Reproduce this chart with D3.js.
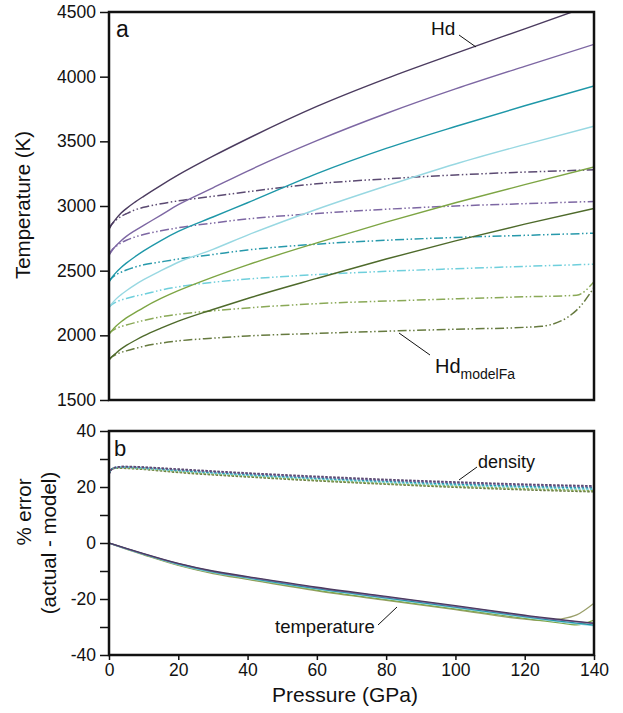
<!DOCTYPE html>
<html><head><meta charset="utf-8">
<script src="https://cdn.jsdelivr.net/npm/d3@7"></script>
<style>
html,body{margin:0;padding:0;background:#fff;}
text{font-family:"Liberation Sans",Arial,Helvetica,sans-serif;fill:#111;}
</style></head>
<body>
<script>
// ---------------- DATA ----------------
const seriesNames = ["2800","2600","2400","2200","2000","1800"];
const solidColors = ["#4b3b5f","#7d67a3","#1e97a8","#98d8e2","#7da544","#4e6a2b"];
const modelColors = ["#5b4a72","#7d67a3","#2799ab","#6fcfdc","#8aa957","#667a3f"];

// panel a: Hd (solid) temperatures vs pressure
const pHd = [0,1,2,3.5,5,7.5,10,15,20,30,40,60,80,100,120,140];
const hd2800 = [2820,2865,2900,2945,2980,3030,3075,3160,3240,3385,3520,3770,3985,4180,4370,4560];
const hd2600 = [2620,2660,2692,2732,2765,2810,2850,2930,3010,3140,3270,3505,3715,3905,4080,4250];
const hd2400 = [2413,2453,2485,2525,2558,2608,2653,2733,2803,2915,3025,3250,3445,3615,3775,3928];
const hd2200 = [2215,2250,2280,2315,2345,2390,2430,2500,2565,2665,2775,2975,3155,3325,3475,3617];
const hd2000 = [2010,2042,2070,2105,2135,2175,2215,2285,2345,2450,2545,2715,2875,3025,3165,3302];
const hd1800 = [1810,1838,1862,1895,1922,1960,1995,2055,2110,2200,2285,2440,2590,2730,2860,2981];

// panel a: Hd_modelFa (dash-dot-dot) temperatures vs pressure
const pModel = [0,0.5,1,2,3.5,5,7.5,10,15,20,30,40,60,80,100,120,140];
const mod2800 = [2820,2848,2865,2890,2920,2940,2970,2990,3018,3040,3075,3110,3172,3210,3240,3262,3280];
const mod2600 = [2620,2648,2665,2688,2715,2735,2760,2780,2808,2832,2868,2900,2942,2975,3000,3018,3035];
const mod2400 = [2413,2435,2448,2468,2488,2505,2528,2545,2568,2590,2625,2660,2705,2735,2757,2773,2790];
const mod2200 = [2215,2231,2242,2257,2273,2285,2303,2317,2350,2375,2410,2435,2470,2495,2515,2533,2550];
const pModelYG = [0,0.5,1,2,3.5,5,7.5,10,15,20,30,40,60,80,100,120,135,140];
const mod2000 = [2010,2026,2037,2052,2068,2080,2098,2115,2143,2163,2190,2212,2245,2265,2282,2298,2310,2415];
const pModelDG = [0,0.5,1,2,3.5,5,7.5,10,15,20,30,40,60,80,100,120,125,135,140];
const mod1800 = [1810,1826,1837,1852,1868,1880,1898,1915,1940,1957,1978,1995,2015,2032,2047,2062,2070,2195,2370];

// panel b: % error in density (dashed)
const pDens = [0,0.5,1,2,3,4,6,10,20,40,60,80,100,120,140];
const dens2800 = [24.5,25.8,26.5,27.0,27.2,27.3,27.3,27.1,26.4,25.0,23.8,22.7,21.8,21.0,20.4];
const dens2600 = [24.6,25.9,26.6,27.0,27.2,27.3,27.2,27.0,26.2,24.8,23.5,22.4,21.5,20.7,20.1];
const dens2400 = [24.8,26.0,26.6,27.0,27.1,27.2,27.1,26.9,26.0,24.5,23.2,22.1,21.1,20.3,19.7];
const dens2200 = [25.0,26.1,26.6,26.9,27.0,27.1,27.0,26.7,25.8,24.2,22.9,21.7,20.7,19.9,19.2];
const dens2000 = [25.3,26.2,26.6,26.8,26.9,26.9,26.8,26.5,25.5,23.9,22.5,21.3,20.3,19.4,18.7];
const dens1800 = [25.5,26.2,26.5,26.7,26.7,26.7,26.6,26.3,25.2,23.6,22.2,21.0,19.9,19.0,18.3];

// panel b: % error in temperature (solid)
const pTemp = [0,5,10,20,30,40,60,80,100,120,125,130,135,140];
const terr2800 = [0,-1.9,-3.8,-7.3,-10.0,-12.0,-15.8,-19.1,-22.4,-25.8,-26.6,-27.3,-28.0,-28.6];
const terr2600 = [0,-2.0,-3.9,-7.4,-10.1,-12.2,-16.0,-19.3,-22.6,-26.0,-26.8,-27.5,-28.2,-28.8];
const terr2400 = [0,-2.0,-4.0,-7.5,-10.3,-12.4,-16.3,-19.6,-22.9,-26.3,-27.1,-27.9,-28.6,-29.3];
const terr2200 = [0,-2.1,-4.0,-7.7,-10.5,-12.6,-16.5,-19.9,-23.2,-26.6,-27.4,-28.2,-28.9,-29.6];
const terr2000 = [0,-2.1,-4.1,-7.8,-10.7,-12.8,-16.8,-20.2,-23.5,-26.9,-27.7,-28.5,-29.2,-27.5];
const terr1800 = [0,-2.2,-4.2,-8.0,-10.9,-13.0,-17.1,-20.5,-23.8,-27.2,-27.7,-27.2,-25.7,-21.5];

const xTicks = [0,20,40,60,80,100,120,140];
const yTicksA = [1500,2000,2500,3000,3500,4000,4500];
const yTicksB = [-40,-30,-20,-10,0,10,20,30,40];

// ---------------- CHART ----------------
const W = 623, H = 713;
const svg = d3.select("body").append("svg").attr("width", W).attr("height", H);

const L = 109, R = 594, aTop = 12, aBot = 400, bTop = 431, bBot = 655;
const x = d3.scaleLinear().domain([0,140]).range([L,R]);
const yA = d3.scaleLinear().domain([1500,4500]).range([aBot,aTop]);
const yB = d3.scaleLinear().domain([-40,40]).range([bBot,bTop]);

const defs = svg.append("defs");
defs.append("clipPath").attr("id","clipA").append("rect")
  .attr("x",L).attr("y",aTop).attr("width",R-L).attr("height",aBot-aTop);
defs.append("clipPath").attr("id","clipB").append("rect")
  .attr("x",L).attr("y",bTop).attr("width",R-L).attr("height",bBot-bTop);

function zip(ps, vs){ return ps.map((p,i)=>[p,vs[i]]); }
const lineA = d3.line().x(d=>x(d[0])).y(d=>yA(d[1])).curve(d3.curveMonotoneX);
const lineB = d3.line().x(d=>x(d[0])).y(d=>yB(d[1])).curve(d3.curveMonotoneX);

// panel a
const gA = svg.append("g").attr("clip-path","url(#clipA)");
const hdSeries = [hd2800,hd2600,hd2400,hd2200,hd2000,hd1800];
const modSeries = [
  [pModel,mod2800],[pModel,mod2600],[pModel,mod2400],[pModel,mod2200],[pModelYG,mod2000],[pModelDG,mod1800]
];
modSeries.forEach((s,i)=>{
  gA.append("path").attr("d", lineA(zip(s[0],s[1])))
    .attr("fill","none").attr("stroke",modelColors[i]).attr("stroke-width",1.5)
    .attr("stroke-dasharray","9,2.5,1.5,2.5,1.5,2.5");
});
hdSeries.forEach((s,i)=>{
  gA.append("path").attr("d", lineA(zip(pHd,s)))
    .attr("fill","none").attr("stroke",solidColors[i]).attr("stroke-width",1.4);
});

// panel b
const gB = svg.append("g").attr("clip-path","url(#clipB)");
const densSeries = [dens2800,dens2600,dens2400,dens2200,dens2000,dens1800];
const terrSeries = [terr2800,terr2600,terr2400,terr2200,terr2000,terr1800];
const bOrder = [5,4,3,2,1,0];
bOrder.forEach(i=>{
  gB.append("path").attr("d", lineB(zip(pTemp,terrSeries[i])))
    .attr("fill","none").attr("stroke",i===5?"#9a9f6a":solidColors[i]).attr("stroke-width",1.3);
});
bOrder.forEach(i=>{
  gB.append("path").attr("d", lineB(zip(pDens,densSeries[i])))
    .attr("fill","none").attr("stroke",modelColors[i]).attr("stroke-width",1.6)
    .attr("stroke-dasharray","2.5,1.5");
});

// frames
[[aTop,aBot],[bTop,bBot]].forEach(([t,b])=>{
  svg.append("rect").attr("x",L).attr("y",t).attr("width",R-L).attr("height",b-t)
    .attr("fill","none").attr("stroke","#111").attr("stroke-width",2.5);
});

// axes
const tickFont = 17.5;
function styleAxis(g){
  g.select(".domain").remove();
  g.selectAll(".tick line").attr("stroke","#111").attr("stroke-width",1.5);
  g.selectAll(".tick text").attr("font-size",tickFont).attr("fill","#111")
    .attr("font-family",'"Liberation Sans",Arial,sans-serif');
}
const axA = svg.append("g").attr("transform",`translate(${L},0)`)
  .call(d3.axisLeft(yA).tickValues(yTicksA).tickSize(9).tickPadding(4).tickFormat(d3.format("d")));
styleAxis(axA);
const axBy = svg.append("g").attr("transform",`translate(${L},0)`)
  .call(d3.axisLeft(yB).tickValues(yTicksB).tickSize(9).tickPadding(4)
    .tickFormat(d=> d%20===0 ? String(d) : ""));
styleAxis(axBy);
const axBx = svg.append("g").attr("transform",`translate(0,${bBot})`)
  .call(d3.axisBottom(x).tickValues(xTicks).tickSize(5).tickPadding(4));
styleAxis(axBx);

// axis titles
svg.append("text").attr("transform","translate(30,205) rotate(-90)")
  .attr("text-anchor","middle").attr("font-size",20.5).text("Temperature (K)");
svg.append("text").attr("transform","translate(31,512) rotate(-90)")
  .attr("text-anchor","middle").attr("font-size",20.5).text("% error");
svg.append("text").attr("transform","translate(56,543) rotate(-90)")
  .attr("text-anchor","middle").attr("font-size",20.5).text("(actual - model)");
svg.append("text").attr("x",345).attr("y",702).attr("text-anchor","middle")
  .attr("font-size",21).text("Pressure (GPa)");

// panel labels
svg.append("text").attr("x",116).attr("y",37).attr("font-size",23).text("a");
svg.append("text").attr("x",114).attr("y",456).attr("font-size",22).text("b");

// annotations
function leader(x1,y1,x2,y2){
  svg.append("line").attr("x1",x1).attr("y1",y1).attr("x2",x2).attr("y2",y2)
    .attr("stroke","#111").attr("stroke-width",1);
}
svg.append("text").attr("x",431).attr("y",35).attr("font-size",19).text("Hd");
leader(459,35,476,47);
const t2 = svg.append("text").attr("x",435).attr("y",373).attr("font-size",20);
t2.append("tspan").text("Hd");
t2.append("tspan").attr("font-size",14).attr("dy",6).text("modelFa");
leader(399,333,430,355);
svg.append("text").attr("x",478).attr("y",468).attr("font-size",18).text("density");
leader(459,480,477,467);
svg.append("text").attr("x",275).attr("y",633).attr("font-size",18.5).text("temperature");
leader(378,625,397,607);
</script>
</body></html>
